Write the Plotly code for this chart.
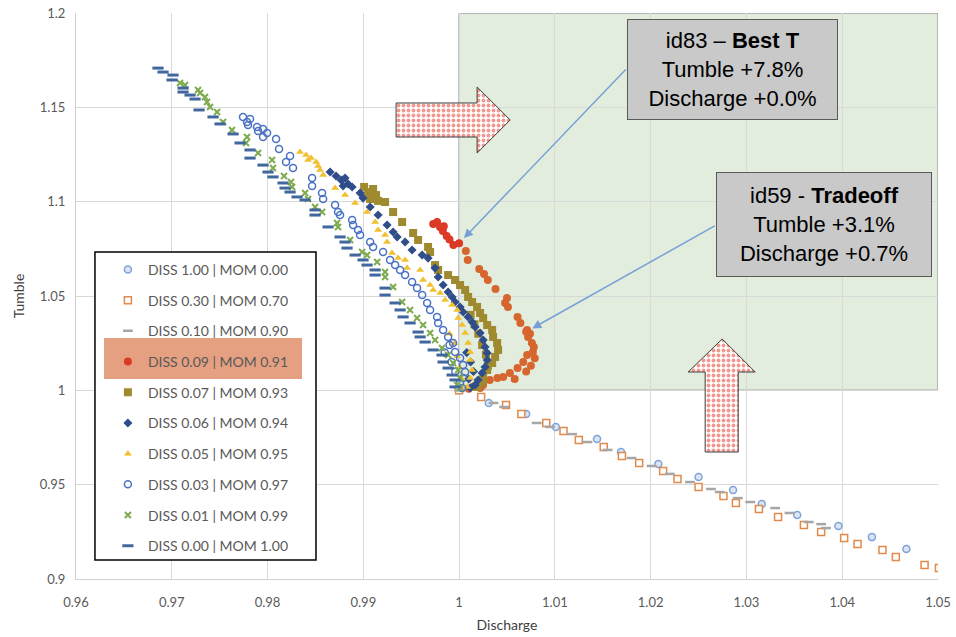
import plotly.graph_objects as go

# ---------------- series data: (Discharge, Tumble) ----------------
labels = [
    "DISS 1.00 | MOM 0.00", "DISS 0.30 | MOM 0.70", "DISS 0.10 | MOM 0.90",
    "DISS 0.09 | MOM 0.91", "DISS 0.07 | MOM 0.93", "DISS 0.06 | MOM 0.94",
    "DISS 0.05 | MOM 0.95", "DISS 0.03 | MOM 0.97", "DISS 0.01 | MOM 0.99",
    "DISS 0.00 | MOM 1.00",
]

d100_x = [1.0000, 1.0031, 1.0070, 1.0101, 1.0144, 1.0169, 1.0208, 1.0250, 1.0286,
          1.0316, 1.0353, 1.0396, 1.0431, 1.0467]
d100_y = [1.0000, 0.9933, 0.9875, 0.9806, 0.9742, 0.9673, 0.9610, 0.9541, 0.9472,
          0.9398, 0.9339, 0.9281, 0.9222, 0.9159]

d030_x = [1.0000, 1.0023, 1.0049, 1.0065, 1.0091, 1.0109, 1.0125, 1.0151, 1.0170, 1.0188,
          1.0213, 1.0228, 1.0250, 1.0276, 1.0289, 1.0313, 1.0333, 1.0360, 1.0378, 1.0402,
          1.0416, 1.0442, 1.0456, 1.0486, 1.0501]
d030_y = [1.0000, 0.9965, 0.9922, 0.9875, 0.9827, 0.9784, 0.9737, 0.9700, 0.9652, 0.9615,
          0.9572, 0.9530, 0.9488, 0.9440, 0.9403, 0.9371, 0.9329, 0.9286, 0.9249, 0.9217,
          0.9185, 0.9154, 0.9117, 0.9074, 0.9058]

d010_x = [1.0000, 1.0036, 1.0047, 1.0081, 1.0095, 1.0118, 1.0134, 1.0155, 1.0180, 1.0201,
          1.0220, 1.0241, 1.0263, 1.0272, 1.0291, 1.0304, 1.0330, 1.0345, 1.0365, 1.0378,
          1.0383]
d010_y = [1.0000, 0.9933, 0.9912, 0.9827, 0.9806, 0.9768, 0.9726, 0.9684, 0.9641, 0.9599,
          0.9557, 0.9514, 0.9477, 0.9461, 0.9429, 0.9408, 0.9376, 0.9350, 0.9302, 0.9291,
          0.9270]

# first nine runs of this set are the high-tumble group (red), the rest orange
d009_x = [0.9973, 0.9977, 0.9980, 0.9983, 0.9984, 0.9987, 0.9990, 0.9994, 1.0000,
          1.0007, 1.0009, 1.0021, 1.0026, 1.0030, 1.0038, 1.0050, 1.0048, 1.0051, 1.0061,
          1.0064, 1.0070, 1.0071, 1.0074, 1.0072, 1.0076, 1.0078, 1.0077, 1.0079, 1.0071,
          1.0075, 1.0067, 1.0070, 1.0061, 1.0058, 1.0053, 1.0046, 1.0040, 1.0032, 1.0025,
          1.0022, 1.0015, 1.0010]
d009_y = [1.0882, 1.0892, 1.0866, 1.0845, 1.0870, 1.0818, 1.0800, 1.0770, 1.0780,
          1.0739, 1.0691, 1.0643, 1.0617, 1.0585, 1.0537, 1.0489, 1.0463, 1.0442, 1.0389,
          1.0357, 1.0310, 1.0320, 1.0300, 1.0283, 1.0251, 1.0230, 1.0203, 1.0170, 1.0187,
          1.0130, 1.0150, 1.0100, 1.0118, 1.0060, 1.0092, 1.0071, 1.0065, 1.0055, 1.0028,
          1.0012, 1.0020, 1.0008]
d009_groups = ["high"] * 9 + ["low"] * (len(d009_x) - 9)

d007_x = [0.99008, 0.99050, 0.99102, 0.99133, 0.99071, 0.99154, 0.99227, 0.99311, 0.99405,
          0.99520, 0.99572, 0.99676, 0.99697, 0.99749, 0.99781, 0.99885, 0.99958, 1.00010,
          1.00063, 1.00094, 1.00136, 1.00188, 1.00219, 1.00251, 1.00293, 1.00345, 1.00355,
          1.00397, 1.00407, 1.00376, 1.00345, 1.00293, 1.00251, 1.00219, 1.00188, 1.0012,
          1.0016, 1.0020, 1.0024, 1.0028, 1.0030, 1.0025]
d007_y = [1.1078, 1.1051, 1.1067, 1.1035, 1.1014, 1.1004, 1.0998, 1.0945, 1.0892,
          1.0834, 1.0797, 1.0760, 1.0733, 1.0664, 1.0638, 1.0611, 1.0585, 1.0558,
          1.0532, 1.0495, 1.0468, 1.0442, 1.0410, 1.0383, 1.0346, 1.0320, 1.0283,
          1.0251, 1.0214, 1.0177, 1.0145, 1.0108, 1.0071, 1.0039, 1.0018, 1.0400,
          1.0350, 1.0300, 1.0240, 1.0190, 1.0130, 1.0050]

d006_x = [0.98653, 0.98715, 0.98768, 0.98809, 0.98841, 0.98883, 0.98789, 0.98966, 0.98997,
          0.99071, 0.99154, 0.99248, 0.99311, 0.99353, 0.99436, 0.99509, 0.99614, 0.99676,
          0.99749, 0.99781, 0.99833, 0.99885, 0.99927, 0.99958, 1.00010, 1.00042, 1.00094,
          1.00136, 1.00167, 1.00219, 1.00251, 1.00271, 1.00293, 1.00293, 1.00271, 1.00240,
          1.00198, 1.00167, 1.00115, 1.0008, 1.0012, 1.0015, 1.0010]
d006_y = [1.1157, 1.1136, 1.1115, 1.1125, 1.1094, 1.1078, 1.1083, 1.1046, 1.1019,
          1.0972, 1.0929, 1.0876, 1.0839, 1.0813, 1.0786, 1.0744, 1.0717, 1.0701,
          1.0648, 1.0601, 1.0558, 1.0521, 1.0495, 1.0468, 1.0442, 1.0415, 1.0389,
          1.0362, 1.0336, 1.0304, 1.0267, 1.0230, 1.0198, 1.0161, 1.0124, 1.0092,
          1.0055, 1.0028, 1.0012, 1.0200, 1.0150, 1.0100, 1.0060]

d005_x = [0.98339, 0.98402, 0.98454, 0.98507, 0.98527, 0.98423, 0.98548, 0.98580, 0.98705,
          0.98809, 0.98914, 0.99039, 0.99123, 0.99154, 0.99227, 0.99248, 0.99300, 0.99363,
          0.99436, 0.99457, 0.99593, 0.99624, 0.99697, 0.99729, 0.99802, 0.99854, 0.99927,
          0.99979, 0.99990, 1.00031, 1.00063, 1.00094, 1.00115, 1.00115, 1.00136, 1.00115,
          1.00084, 0.9990, 0.9995, 0.9998, 1.0000, 1.0003]
d005_y = [1.1263, 1.1247, 1.1231, 1.1210, 1.1189, 1.1221, 1.1168, 1.1141, 1.1072,
          1.1035, 1.0993, 1.0945, 1.0892, 1.0850, 1.0823, 1.0786, 1.0728, 1.0701,
          1.0691, 1.0648, 1.0638, 1.0585, 1.0558, 1.0532, 1.0516, 1.0479, 1.0452,
          1.0426, 1.0383, 1.0346, 1.0304, 1.0251, 1.0203, 1.0161, 1.0108, 1.0065,
          1.0018, 1.0300, 1.0250, 1.0180, 1.0120, 1.0060]

d003_x = [0.97744, 0.97786, 0.97796, 0.97817, 0.97890, 0.97901, 0.97953, 0.97995, 0.97953,
          0.98089, 0.98120, 0.98235, 0.98193, 0.98266, 0.98465, 0.98465, 0.98569, 0.98580,
          0.98705, 0.98736, 0.98757, 0.98883, 0.98893, 0.98945, 0.98966, 0.99071, 0.99102,
          0.99206, 0.99279, 0.99332, 0.99384, 0.99436, 0.99509, 0.99561, 0.99614, 0.99666,
          0.99697, 0.99770, 0.99781, 0.99833, 0.99885, 0.99937, 0.99958, 1.00010, 1.00042,
          1.00063, 1.00042, 1.00010, 1.00031, 0.9990, 0.9985, 0.9992, 0.9996]
d003_y = [1.1449, 1.1422, 1.1406, 1.1438, 1.1396, 1.1375, 1.1385, 1.1364, 1.1343,
          1.1332, 1.1279, 1.1242, 1.1210, 1.1178, 1.1125, 1.1083, 1.1046, 1.1014,
          1.0982, 1.0945, 1.0929, 1.0903, 1.0876, 1.0850, 1.0823, 1.0786, 1.0760,
          1.0733, 1.0691, 1.0664, 1.0638, 1.0611, 1.0574, 1.0542, 1.0505, 1.0463,
          1.0426, 1.0389, 1.0357, 1.0320, 1.0283, 1.0251, 1.0203, 1.0171, 1.0134,
          1.0097, 1.0065, 1.0039, 1.0012, 1.0240, 1.0200, 1.0150, 1.0100]

d001_x = [0.97086, 0.97138, 0.97274, 0.97295, 0.97347, 0.97368, 0.97400, 0.97473, 0.97535,
          0.97629, 0.97786, 0.97775, 0.97901, 0.98047, 0.98057, 0.98172, 0.98245, 0.98256,
          0.98392, 0.98423, 0.98496, 0.98569, 0.98726, 0.98736, 0.98862, 0.98987, 0.99039,
          0.99144, 0.99227, 0.99227, 0.99311, 0.99405, 0.99488, 0.99561, 0.99624, 0.99697,
          0.99749, 0.99822, 0.99885, 0.99937, 0.99990, 1.00010, 0.99979, 1.00010]
d001_y = [1.1629, 1.1618, 1.1592, 1.1576, 1.1555, 1.1528, 1.1502, 1.1475, 1.1422,
          1.1380, 1.1343, 1.1311, 1.1258, 1.1221, 1.1178, 1.1136, 1.1104, 1.1078,
          1.1046, 1.1014, 1.0972, 1.0945, 1.0887, 1.0866, 1.0797, 1.0733, 1.0717,
          1.0680, 1.0627, 1.0601, 1.0548, 1.0468, 1.0426, 1.0383, 1.0346, 1.0304,
          1.0267, 1.0224, 1.0187, 1.0145, 1.0108, 1.0065, 1.0028, 1.0012]

d000_x = [0.96856, 0.96909, 0.97013, 0.97003, 0.97118, 0.97118, 0.97191, 0.97243, 0.97285,
          0.97431, 0.97504, 0.97640, 0.97713, 0.97817, 0.97817, 0.97953, 0.98005, 0.98057,
          0.98162, 0.98183, 0.98235, 0.98308, 0.98392, 0.98496, 0.98496, 0.98632, 0.98757,
          0.98809, 0.98830, 0.98914, 0.98997, 0.99039, 0.99123, 0.99123, 0.99227, 0.99227,
          0.99332, 0.99384, 0.99415, 0.99488, 0.99572, 0.99593, 0.99645, 0.99729, 0.99822,
          0.99833, 0.99885, 0.99927, 0.99958, 0.99958]
d000_y = [1.1708, 1.1687, 1.1671, 1.1645, 1.1602, 1.1581, 1.1565, 1.1544, 1.1486,
          1.1449, 1.1412, 1.1359, 1.1311, 1.1274, 1.1231, 1.1194, 1.1157, 1.1131,
          1.1099, 1.1072, 1.1051, 1.1025, 1.1009, 1.0956, 1.0929, 1.0866, 1.0813,
          1.0786, 1.0754, 1.0717, 1.0691, 1.0664, 1.0638, 1.0611, 1.0542, 1.0505,
          1.0463, 1.0426, 1.0389, 1.0357, 1.0309, 1.0283, 1.0256, 1.0214, 1.0187,
          1.0150, 1.0118, 1.0081, 1.0055, 1.0018]

# highlighted designs
best_t = {"x": 1.000, "y": 1.078}      # id83
tradeoff = {"x": 1.007, "y": 1.031}    # id59

x_ticks = [0.96, 0.97, 0.98, 0.99, 1.00, 1.01, 1.02, 1.03, 1.04, 1.05]
x_ticktext = ["0.96", "0.97", "0.98", "0.99", "1", "1.01", "1.02", "1.03", "1.04", "1.05"]
y_ticks = [0.90, 0.95, 1.00, 1.05, 1.10, 1.15, 1.20]
y_ticktext = ["0.9", "0.95", "1", "1.05", "1.1", "1.15", "1.2"]

# block-arrow outlines (Discharge, Tumble)
right_arrow_x = [0.99342, 1.00188, 1.00188, 1.00533, 1.00188, 1.00188, 0.99342, 0.99342]
right_arrow_y = [1.15230, 1.15230, 1.16078, 1.14329, 1.12579, 1.13427, 1.13427, 1.15230]
up_arrow_x = [1.02569, 1.02392, 1.02747, 1.03091, 1.02914, 1.02914, 1.02569, 1.02569]
up_arrow_y = [1.00971, 1.00971, 1.02721, 1.00971, 1.00971, 0.96731, 0.96731, 1.00971]

# ---------------- styling ----------------
RED, ORANGE = "#dd3a26", "#d7652e"
styles = [
    dict(symbol="circle", size=7, color="#dbe5f4", line=dict(color="#7fa3d9", width=1.5)),
    dict(symbol="square", size=7, color="white", line=dict(color="#e08b4c", width=1.5)),
    dict(symbol="line-ew", size=7, color="#a6a6a6", line=dict(color="#a6a6a6", width=2.5)),
    dict(symbol="circle", size=8, color=[RED if g == "high" else ORANGE for g in d009_groups],
         line=dict(width=0)),
    dict(symbol="square", size=8, color="#9f8a2f", line=dict(width=0)),
    dict(symbol="diamond", size=7, color="#2f4d8a", line=dict(width=0)),
    dict(symbol="triangle-up", size=7, color="#f2c02e", line=dict(width=0)),
    dict(symbol="circle-open", size=7, color="#4a72c4", line=dict(color="#4a72c4", width=1.5)),
    dict(symbol="x-thin", size=6, color="#7eab4e", line=dict(color="#7eab4e", width=2)),
    dict(symbol="line-ew", size=8, color="#40679e", line=dict(color="#40679e", width=3)),
]
series = [(d100_x, d100_y), (d030_x, d030_y), (d010_x, d010_y), (d009_x, d009_y),
          (d007_x, d007_y), (d006_x, d006_y), (d005_x, d005_y), (d003_x, d003_y),
          (d001_x, d001_y), (d000_x, d000_y)]

fig = go.Figure()

for i, ((xs, ys), lab, st) in enumerate(zip(series, labels, styles)):
    fig.add_trace(go.Scatter(
        x=xs, y=ys, mode="markers", name=lab, marker=st,
        legendgroup=f"g{i}", hoverinfo="x+y+name",
    ))

for ax_, ay_ in [(right_arrow_x, right_arrow_y), (up_arrow_x, up_arrow_y)]:
    fig.add_trace(go.Scatter(
        x=ax_, y=ay_, mode="lines", fill="toself", showlegend=False, hoverinfo="skip",
        line=dict(color="#3c3c3c", width=1),
        fillcolor="white",
        fillpattern=dict(shape=".", fgcolor="#e2321f", bgcolor="white", size=5, solidity=0.45),
    ))

# improvement region: Discharge >= 1 and Tumble >= 1
fig.add_shape(type="rect", xref="x", yref="y", x0=1.0, x1=1.05, y0=1.0, y1=1.2,
              fillcolor="#e2edde", line=dict(color="#a5a5a5", width=1.5), layer="below")

# legend frame and highlighted entry
fig.add_shape(type="rect", xref="paper", yref="paper", x0=0.0220, x1=0.2784,
              y0=0.0336, y1=0.5777, fillcolor="white", line=dict(color="black", width=1.5),
              layer="above")
fig.add_shape(type="rect", xref="paper", yref="paper", x0=0.0325, x1=0.2622,
              y0=0.3534, y1=0.4258, fillcolor="#e4a080", line=dict(width=0), layer="above")

box_font = dict(family="Liberation Sans, Arial, sans-serif", size=22, color="black")
fig.add_annotation(xref="paper", yref="paper", x=0.7616, y=0.9002, xanchor="center",
                   yanchor="middle", showarrow=False, width=209, height=99,
                   text="id83 – <b>Best T</b><br>Tumble +7.8%<br>Discharge +0.0%",
                   font=box_font, bgcolor="#c9c9c9", bordercolor="#5a5a5a", borderwidth=1,
                   borderpad=0)
fig.add_annotation(xref="paper", yref="paper", x=0.8677, y=0.6263, xanchor="center",
                   yanchor="middle", showarrow=False, width=214, height=103,
                   text="id59 - <b>Tradeoff</b><br>Tumble +3.1%<br>Discharge +0.7%",
                   font=box_font, bgcolor="#c9c9c9", bordercolor="#5a5a5a", borderwidth=1,
                   borderpad=0)

# pointers from the boxes to the designs
for pt, tail in [(best_t, (1.01755, 1.17085)), (tradeoff, (1.02684, 1.08763))]:
    fig.add_annotation(x=pt["x"], y=pt["y"], xref="x", yref="y", text="",
                       ax=tail[0], ay=tail[1], axref="x", ayref="y", showarrow=True,
                       arrowhead=2, arrowsize=1.2, arrowwidth=1.5, arrowcolor="#76a0d6",
                       standoff=7)

axis_common = dict(showgrid=True, gridcolor="#d9d9d9", gridwidth=1, zeroline=False,
                   showline=True, linecolor="#d0d0d0", linewidth=1, ticks="",
                   automargin=False,
                   tickfont=dict(family="Lato, sans-serif", size=13, color="#595959"))

fig.update_layout(
    width=956, height=637,
    margin=dict(l=76, r=18, t=13, b=58),
    paper_bgcolor="white", plot_bgcolor="white",
    font=dict(family="Lato, sans-serif", color="#404040"),
    xaxis=dict(range=[0.96, 1.05], tickvals=x_ticks, ticktext=x_ticktext,
               ticklabelstandoff=11,
               title=dict(text="Discharge", font=dict(size=14, color="#404040"), standoff=11),
               **axis_common),
    yaxis=dict(range=[0.9, 1.2], tickvals=y_ticks, ticktext=y_ticktext,
               ticklabelstandoff=7,
               title=dict(text="Tumble", font=dict(size=14, color="#404040"), standoff=11),
               **axis_common),
    showlegend=True,
    legend=dict(x=0.037, y=0.5745, xanchor="left", yanchor="top",
                bgcolor="rgba(0,0,0,0)", borderwidth=0,
                font=dict(family="Lato, sans-serif", size=14, color="#595959"),
                traceorder="grouped", tracegroupgap=9.5, itemsizing="trace"),
)

fig.write_html("out.html")
